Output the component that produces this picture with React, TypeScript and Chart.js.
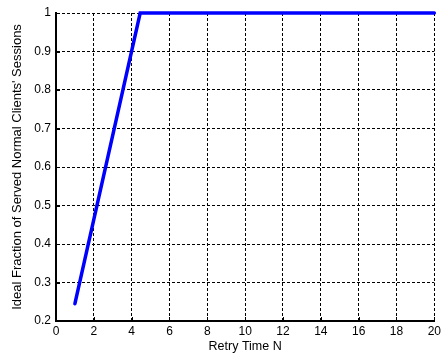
import React, { useEffect, useRef } from "react";
import { Chart, registerables } from "chart.js";

Chart.register(...registerables);

const retryTimes = [1, 4.45, 20];
const servedFractions = [0.245, 1, 1];
const xTickStep = 2;
const yTickStep = 0.1;
const xTitle = "Retry Time N";
const yTitle = "Ideal Fraction of Served Normal Clients' Sessions";

const FONT = "'Liberation Sans', Arial, sans-serif";

const inwardTicks = {
  id: "inwardTicks",
  afterDatasetsDraw(chart: any) {
    const { ctx, chartArea, scales } = chart;
    const len = 4;
    ctx.save();
    ctx.strokeStyle = "#000";
    ctx.lineWidth = 1;
    ctx.setLineDash([]);
    scales.x.ticks.forEach((t: any) => {
      const px = Math.round(scales.x.getPixelForValue(t.value)) + 0.5;
      ctx.beginPath();
      ctx.moveTo(px, chartArea.bottom);
      ctx.lineTo(px, chartArea.bottom - len);
      ctx.stroke();
    });
    scales.y.ticks.forEach((t: any) => {
      const py = Math.round(scales.y.getPixelForValue(t.value)) + 0.5;
      ctx.beginPath();
      ctx.moveTo(chartArea.left, py);
      ctx.lineTo(chartArea.left + len, py);
      ctx.stroke();
    });
    ctx.restore();
  },
};

export default function App() {
  const ref = useRef<HTMLCanvasElement>(null);
  useEffect(() => {
    document.body.style.margin = "0";
    document.body.style.overflow = "hidden";
    const chart = new Chart(ref.current!, {
      type: "line",
      data: {
        datasets: [
          {
            data: retryTimes.map((x, i) => ({ x, y: servedFractions[i] })),
            borderColor: "#0000FF",
            borderWidth: 3.5,
            pointRadius: 0,
            borderCapStyle: "round",
            borderJoinStyle: "miter",
            tension: 0,
            fill: false,
            clip: 6,
          } as any,
        ],
      },
      options: {
        animation: false,
        responsive: false,
        maintainAspectRatio: false,
        layout: { padding: { top: 13, right: 0, bottom: 0, left: 0 } },
        plugins: { legend: { display: false }, tooltip: { enabled: false } },
        scales: {
          x: {
            type: "linear",
            min: 0,
            max: 20,
            afterFit(scale: any) {
              scale.height = 33;
            },
            ticks: {
              stepSize: xTickStep,
              color: "#000",
              padding: 3,
              maxRotation: 0,
              font: { family: FONT, size: 12 },
            },
            grid: {
              color: "#000",
              lineWidth: 1,
              drawTicks: false,
            },
            border: { display: true, color: "#000", width: 2, dash: [3, 2] } as any,
            title: {
              display: true,
              text: xTitle,
              color: "#000",
              font: { family: FONT, size: 12.5 },
              padding: { top: 1, bottom: 0 },
            },
          },
          y: {
            type: "linear",
            min: 0.2,
            max: 1,
            afterFit(scale: any) {
              scale.width = 56;
            },
            ticks: {
              stepSize: yTickStep,
              color: "#000",
              padding: 5,
              font: { family: FONT, size: 12 },
              callback: (v: any) => String(parseFloat(Number(v).toFixed(1))),
            },
            grid: {
              color: "#000",
              lineWidth: 1,
              drawTicks: false,
            },
            border: { display: true, color: "#000", width: 2, dash: [3, 2] } as any,
            title: {
              display: true,
              text: yTitle,
              color: "#000",
              font: { family: FONT, size: 13 },
              padding: { top: 10, bottom: 0 },
            },
          },
        },
      },
      plugins: [inwardTicks],
    });
    return () => chart.destroy();
  }, []);
  return (
    <div style={{ position: "absolute", left: 0, top: 0, width: 444, height: 354 }}>
      <canvas ref={ref} width={444} height={354} style={{ width: 444, height: 354 }} />
    </div>
  );
}
